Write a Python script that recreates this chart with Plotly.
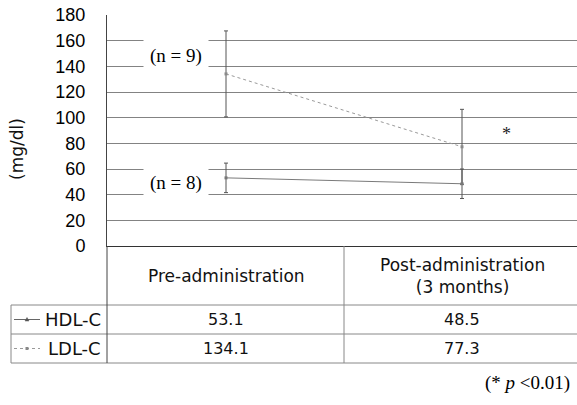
import plotly.graph_objects as go

categories = ["Pre-administration", "Post-administration<br>(3 months)"]
series_names = ["HDL-C", "LDL-C"]
hdl_values = [53.1, 48.5]
ldl_values = [134.1, 77.3]
hdl_err = [11.5, 11.5]
ldl_err = [33.5, 29.2]
y_ticks = [0, 20, 40, 60, 80, 100, 120, 140, 160, 180]

W, H = 577, 405
L, R, T, B = 107, 0, 15, 159
PW, PH = W - L - R, H - T - B
BOTTOM_PX = H - B  # pixel y of plot bottom


def px_x(px):
    return (px - L) / PW


def px_y(py):
    return (BOTTOM_PX - py) / PH


xs = [0, 1]
SANS = "Liberation Sans"
TSANS = "DejaVu Sans"
SERIF = "Liberation Serif"

fig = go.Figure()
fig.add_trace(go.Scatter(
    x=xs, y=ldl_values, mode="lines+markers", name=series_names[1],
    line=dict(color="#9a9a9a", width=1, dash="dot"),
    marker=dict(symbol="square", size=3, color="#8a8a8a"),
    error_y=dict(type="data", array=ldl_err, visible=True, color="#555555", thickness=1, width=2),
    cliponaxis=False,
))
fig.add_trace(go.Scatter(
    x=xs, y=hdl_values, mode="lines+markers", name=series_names[0],
    line=dict(color="#7a7a7a", width=1),
    marker=dict(symbol="square", size=3, color="#777777"),
    error_y=dict(type="data", array=hdl_err, visible=True, color="#555555", thickness=1, width=2),
    cliponaxis=False,
))

x0 = -(226 - L) / 236
x1 = x0 + PW / 236

fig.update_layout(
    width=W, height=H,
    margin=dict(l=L, r=R, t=T, b=B, pad=0),
    paper_bgcolor="white", plot_bgcolor="white",
    showlegend=False,
    xaxis=dict(range=[x0, x1], showticklabels=False, showgrid=False, zeroline=False,
               showline=True, linecolor="#333333", linewidth=1, ticks=""),
    yaxis=dict(range=[0, 180], tickvals=y_ticks, ticktext=[str(v) for v in y_ticks],
               showgrid=True, gridcolor="#838383", gridwidth=1, zeroline=False,
               showline=True, linecolor="#444444", linewidth=1, ticks="",
               ticklabelstandoff=17,
               tickfont=dict(family=SANS, size=18, color="black")),
)

shapes = []
line_gray = dict(color="#888888", width=1)
line_dark = dict(color="#444444", width=1)
# table horizontal lines
for py in (305, 334, 363):
    shapes.append(dict(type="line", xref="paper", yref="paper",
                       x0=px_x(11), x1=1, y0=px_y(py), y1=px_y(py), line=line_gray))
# vertical lines
shapes.append(dict(type="line", xref="paper", yref="paper",
                   x0=0, x1=0, y0=0, y1=px_y(363), line=line_dark))
mid_x = px_x(L + (0.5 - x0) * 236)
shapes.append(dict(type="line", xref="paper", yref="paper",
                   x0=mid_x, x1=mid_x, y0=0, y1=px_y(363), line=line_gray))
shapes.append(dict(type="line", xref="paper", yref="paper",
                   x0=px_x(11), x1=px_x(11), y0=px_y(305), y1=px_y(363), line=line_gray))
# legend symbols
shapes.append(dict(type="line", xref="paper", yref="paper",
                   x0=px_x(14), x1=px_x(40), y0=px_y(319.5), y1=px_y(319.5),
                   line=dict(color="#666666", width=1)))
shapes.append(dict(type="line", xref="paper", yref="paper",
                   x0=px_x(14), x1=px_x(40), y0=px_y(348.5), y1=px_y(348.5),
                   line=dict(color="#999999", width=1, dash="dot")))
# triangle marker (HDL) and square marker (LDL)
tri = "M {} {} L {} {} L {} {} Z".format(px_x(25), px_y(321), px_x(29), px_y(321), px_x(27), px_y(317.5))
shapes.append(dict(type="path", xref="paper", yref="paper", path=tri,
                   fillcolor="#555555", line=dict(color="#555555", width=0.5)))
shapes.append(dict(type="rect", xref="paper", yref="paper",
                   x0=px_x(25.5), x1=px_x(28.5), y0=px_y(350), y1=px_y(347),
                   fillcolor="#888888", line=dict(width=0)))
fig.update_layout(shapes=shapes)

ann = []
# header row
for i, c in enumerate(categories):
    ann.append(dict(x=xs[i], xref="x", y=px_y(276), yref="paper", text=c, showarrow=False,
                    font=dict(family=TSANS, size=17, color="#111111"), xanchor="center", yanchor="middle"))
# value rows
for row_py, name, vals in ((319.5, series_names[0], hdl_values), (348.5, series_names[1], ldl_values)):
    ann.append(dict(x=px_x(103), xref="paper", y=px_y(row_py), yref="paper", text=name,
                    showarrow=False, xanchor="right", yanchor="middle",
                    font=dict(family=TSANS, size=18, color="#111111")))
    for i, v in enumerate(vals):
        ann.append(dict(x=xs[i], xref="x", y=px_y(row_py), yref="paper", text=f"{v:.1f}",
                        showarrow=False, xanchor="center", yanchor="middle",
                        font=dict(family=TSANS, size=16, color="#111111")))
# n labels
for txt, yv in (("(n = 9)", 148), ("(n = 8)", 49)):
    ann.append(dict(x=px_x(175.5), xref="paper", y=yv, yref="y", text=txt, showarrow=False,
                    xanchor="center", yanchor="middle", bgcolor="white", borderpad=6,
                    font=dict(family=SERIF, size=19, color="black")))
# asterisk
ann.append(dict(x=px_x(506), xref="paper", y=87.5, yref="y", text="*", showarrow=False,
                xanchor="center", yanchor="middle", font=dict(family=SERIF, size=18, color="#222222")))
# y title
ann.append(dict(x=px_x(17), xref="paper", y=px_y(149), yref="paper", text="(mg/dl)", showarrow=False,
                textangle=-90, xanchor="center", yanchor="middle",
                font=dict(family=TSANS, size=17, color="#111111")))
# footnote
ann.append(dict(x=px_x(572), xref="paper", y=px_y(383), yref="paper", text="(* <i>p</i> <0.01)",
                showarrow=False, xanchor="right", yanchor="middle",
                font=dict(family=SERIF, size=19, color="black")))
fig.update_layout(annotations=ann)

fig.write_html("out.html", config={"displayModeBar": False},
               post_script="document.body.style.margin='0';")
